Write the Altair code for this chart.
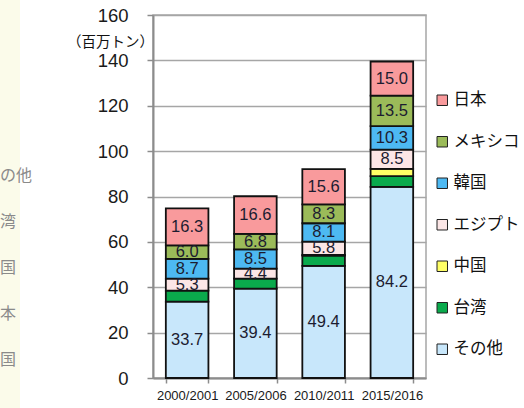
import altair as alt
import pandas as pd

categories = ["2000/2001", "2005/2006", "2010/2011", "2015/2016"]

# stacking order, bottom to top
series = ["その他", "台湾", "中国", "エジプト", "韓国", "メキシコ", "日本"]
v_other = [33.7, 39.4, 49.4, 84.2]
v_taiwan = [4.8, 4.4, 4.5, 4.8]
v_china = [0.0, 0.0, 0.4, 3.2]
v_egypt = [5.3, 4.4, 5.8, 8.5]
v_korea = [8.7, 8.5, 8.1, 10.3]
v_mexico = [6.0, 6.8, 8.3, 13.5]
v_japan = [16.3, 16.6, 15.6, 15.0]
values = [v_other, v_taiwan, v_china, v_egypt, v_korea, v_mexico, v_japan]

legend_order = ["日本", "メキシコ", "韓国", "エジプト", "中国", "台湾", "その他"]
legend_colors = ["#F99A9C", "#9BBB59", "#4DB9F2", "#FCE6E6", "#FFFF66", "#0AAA4C", "#C8E7FB"]
labelled = ["その他", "エジプト", "韓国", "メキシコ", "日本"]

y_ticks = [0, 20, 40, 60, 80, 100, 120, 140, 160]
y_title = "（百万トン）"
side_text = "の他\n湾\n国\n本\n国"

rows = []
for si, s in enumerate(series):
    for ci, c in enumerate(categories):
        rows.append({"year": c, "series": s, "value": values[si][ci],
                     "rank": si, "show": s in labelled})
df = pd.DataFrame(rows)

JP = "Noto Sans CJK JP"
LAT = "Liberation Sans"
GRID = "#a6a6a6"

xenc = alt.X(
    "year:N", sort=categories,
    scale=alt.Scale(paddingInner=0.376, paddingOuter=0.188),
    axis=alt.Axis(title=None, labelAngle=0, labelFontSize=13, labelFont=LAT,
                  labelColor="#1a1a1a", tickBand="extent", tickSize=5,
                  tickColor="#8c8c8c", tickWidth=1.5, domainColor="#8c8c8c",
                  domainWidth=2, labelPadding=6, grid=False),
)

base = (
    alt.Chart(df)
    .transform_filter("datum.value > 0")
    .transform_stack(stack="value", groupby=["year"], as_=["v0", "v1"],
                     sort=[alt.SortField("rank", order="ascending")])
    .transform_calculate(mid="(datum.v0 + datum.v1) / 2")
)

bars = base.mark_bar(stroke="#111111", strokeWidth=1.8).encode(
    x=xenc,
    y=alt.Y("v0:Q", scale=alt.Scale(domain=[0, 160]),
            axis=alt.Axis(values=y_ticks, title=y_title, titleAngle=0,
                          titleX=-43, titleY=27, titleAlign="center",
                          titleBaseline="middle", titleFontSize=14.5,
                          titleFont=JP, titleFontWeight="normal",
                          titleColor="#111111",
                          labelFontSize=18.5, labelFont=LAT,
                          labelColor="#1a1a1a", labelPadding=19,
                          tickSize=6, tickColor="#8c8c8c", tickWidth=1.5,
                          domainColor="#8c8c8c", domainWidth=2,
                          grid=True, gridColor=GRID, gridWidth=1.5)),
    y2="v1:Q",
    color=alt.Color("series:N",
                    scale=alt.Scale(domain=legend_order, range=legend_colors),
                    legend=alt.Legend(title=None, orient="none", legendX=281,
                                      legendY=77, symbolType="square",
                                      symbolSize=110, symbolStrokeColor="#222222",
                                      symbolStrokeWidth=1, labelFontSize=16.5,
                                      labelFont=JP, labelColor="#111111",
                                      labelOffset=3, rowPadding=24.5,
                                      padding=0)),
)

labels = base.transform_filter("datum.show").mark_text(
    fontSize=16.5, font=LAT, color="#1c1c30", baseline="middle"
).encode(
    x=xenc,
    y=alt.Y("mid:Q"),
    text=alt.Text("value:Q", format=".1f"),
)

deco_df = pd.DataFrame({"t": [side_text]})
strip = alt.Chart(deco_df).mark_rect(color="#FBFBEA").encode(
    x=alt.value(-153), x2=alt.value(-133), y=alt.value(-15), y2=alt.value(393)
)
side = alt.Chart(deco_df).mark_text(
    align="left", baseline="top", lineBreak="\n", lineHeight=46,
    fontSize=16, font=JP, color="#8a8a8a"
).encode(x=alt.value(-153), y=alt.value(153), text="t:N")

chart = (
    alt.layer(strip, side, bars, labels)
    .properties(width=273, height=363,
                autosize=alt.AutoSizeParams(type="none"),
                padding={"left": 153, "top": 15, "right": 98, "bottom": 30},
                background="white")
    .configure_view(stroke=GRID, strokeWidth=1.5)
)

chart.save("out.html", embed_options={"renderer": "svg", "actions": False})
